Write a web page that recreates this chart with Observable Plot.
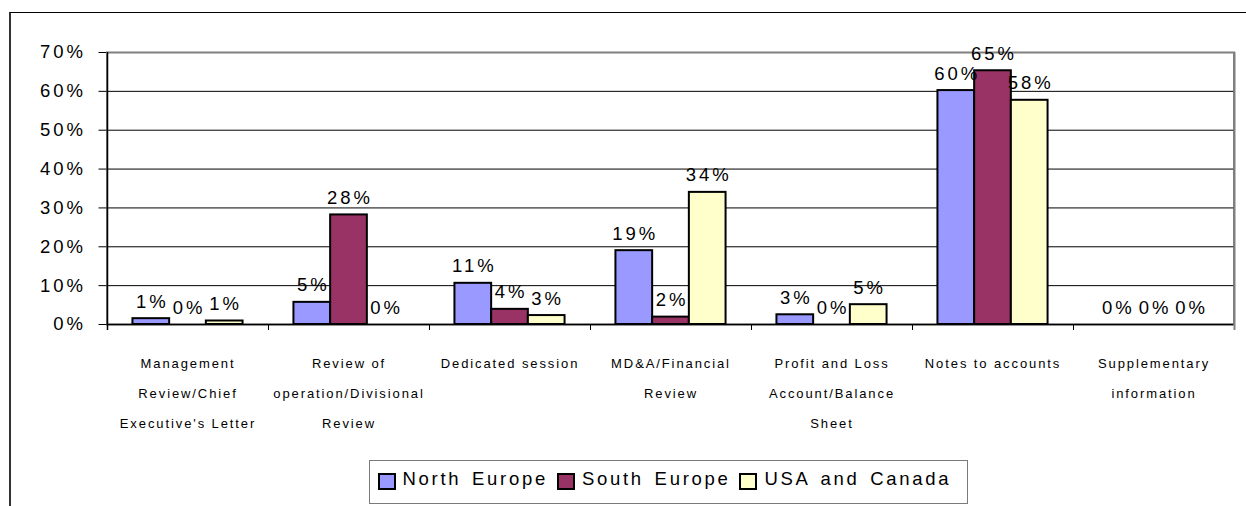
<!DOCTYPE html>
<html>
<head>
<meta charset="utf-8">
<script src="https://cdn.jsdelivr.net/npm/d3@7"></script>
<script src="https://cdn.jsdelivr.net/npm/@observablehq/plot@0.6"></script>
<style>
  html, body { margin: 0; padding: 0; background: #fff; }
  #wrap { position: relative; width: 1246px; height: 506px; overflow: hidden; font-family: "Liberation Sans", Arial, sans-serif; }
  #outer { position: absolute; left: 9px; top: 12px; width: 1400px; height: 700px; border-left: 2px solid #333; border-top: 1px solid #000; pointer-events: none; }
  #chart { position: absolute; left: 0; top: 0; }
  #chart svg { display: block; }
  #legend { position: absolute; left: 369px; top: 460px; width: 599px; height: 44px; box-sizing: border-box;
            border: 1.5px solid #7a7a7a; background: #fff; display: flex; align-items: center; padding-left: 7.5px;
            font-family: "Liberation Sans", Arial, sans-serif; font-size: 18.5px; letter-spacing: 2.7px; word-spacing: 3px; color: #000; }
  .item { display: flex; align-items: center; margin-right: 9px; margin-top: -7px; }
  .sw { width: 18px; height: 17px; box-sizing: border-box; border: 2px solid #000; margin-right: 7px; margin-top: 5px; }
</style>
</head>
<body>
<div id="wrap">
  <div id="chart"></div>
  <div id="legend"></div>
  <div id="outer"></div>
</div>
<script>
// ---- data ----
const categories = [
  "Management Review/Chief Executive's Letter",
  "Review of operation/Divisional Review",
  "Dedicated session",
  "MD&A/Financial Review",
  "Profit and Loss Account/Balance Sheet",
  "Notes to accounts",
  "Supplementary information"
];
const categoryTickLabels = [
  "Management\nReview/Chief\nExecutive's Letter",
  "Review of\noperation/Divisional\nReview",
  "Dedicated session",
  "MD&A/Financial\nReview",
  "Profit and Loss\nAccount/Balance\nSheet",
  "Notes to accounts",
  "Supplementary\ninformation"
];
const seriesNames = ["North Europe", "South Europe", "USA and Canada"];
const seriesColors = ["#9999ff", "#993366", "#ffffcc"];
const northEurope = [0.015, 0.057, 0.106, 0.190, 0.025, 0.602, 0];
const southEurope = [0.000, 0.282, 0.039, 0.019, 0.000, 0.653, 0];
const usaCanada   = [0.009, 0.000, 0.023, 0.340, 0.051, 0.577, 0];
const northLabels = ["1%", "5%", "11%", "19%", "3%", "60%", "0%"];
const southLabels = ["0%", "28%", "4%", "2%", "0%", "65%", "0%"];
const usaLabels   = ["1%", "0%", "3%", "34%", "5%", "58%", "0%"];
const gridValues = [0.1, 0.2, 0.3, 0.4, 0.5, 0.6];

// ---- build ----
const seriesValues = [northEurope, southEurope, usaCanada];
const seriesLabels = [northLabels, southLabels, usaLabels];
const rowsFor = (k) => categories.map((c, i) => ({category: c, value: seriesValues[k][i], label: seriesLabels[k][i]}));

const W = 1246, H = 455, mL = 106.5, mR = 12.5, mT = 52, mB = 131;
const bw = (W - mL - mR) / categories.length;
const barW = bw * 0.228;
const pad = (bw - 3 * barW) / 2;

const marks = [
  Plot.frame({stroke: "#808080", strokeWidth: 2}),
  Plot.ruleY(gridValues, {stroke: "#000", strokeWidth: 1})
];
seriesNames.forEach((name, k) => {
  marks.push(Plot.barY(rowsFor(k), {
    x: "category", y: "value", fill: seriesColors[k], stroke: "#000", strokeWidth: 2,
    insetLeft: pad + k * barW, insetRight: bw - pad - (k + 1) * barW
  }));
});
marks.push(
  Plot.ruleY([0], {stroke: "#000", strokeWidth: 1.5}),
  Plot.ruleX(categories.slice(1), {x: d => d, dx: -bw / 2, y1: 0, y2: 0, insetBottom: -6, stroke: "#000", strokeWidth: 1}),
  Plot.ruleX([categories[0]], {x: d => d, dx: -bw / 2, y1: 0.7, y2: 0, insetBottom: -6, stroke: "#000", strokeWidth: 1.5}),
  Plot.ruleX([categories[categories.length - 1]], {x: d => d, dx: bw / 2, y1: 0.7, y2: 0, insetBottom: -6, stroke: "#808080", strokeWidth: 2})
);
seriesNames.forEach((name, k) => {
  marks.push(Plot.text(rowsFor(k), {
    x: "category", y: "value", text: "label", dx: (k - 1) * barW + 1, dy: -11,
    lineAnchor: "bottom", fontSize: 18.5
  }));
});
marks.push(Plot.text(categories, {
  x: d => d, text: (d, i) => categoryTickLabels[i], frameAnchor: "bottom",
  lineAnchor: "top", dy: 22, lineHeight: 2.3, fontSize: 13
}));

const chart = Plot.plot({
  width: W, height: H,
  marginLeft: mL, marginRight: mR, marginTop: mT, marginBottom: mB,
  style: {fontFamily: "Liberation Sans, Arial, sans-serif", fontSize: "18.5px", letterSpacing: "3px", color: "#000", background: "transparent", overflow: "visible"},
  x: {domain: categories, padding: 0, axis: null},
  y: {domain: [0, 0.7], ticks: 7, tickFormat: d3.format(".0%"), tickSize: 8, tickPadding: 13, label: null},
  marks
});
// category labels use a tighter letter spacing than the numeric labels
chart.querySelectorAll('g[font-size="13"]').forEach(g => { g.style.letterSpacing = "1.9px"; });
document.getElementById("chart").appendChild(chart);

// ---- legend ----
const legend = document.getElementById("legend");
seriesNames.forEach((name, k) => {
  const item = document.createElement("div");
  item.className = "item";
  const sw = document.createElement("div");
  sw.className = "sw";
  sw.style.background = seriesColors[k];
  const t = document.createElement("span");
  t.textContent = name;
  item.appendChild(sw);
  item.appendChild(t);
  legend.appendChild(item);
});
</script>
</body>
</html>
